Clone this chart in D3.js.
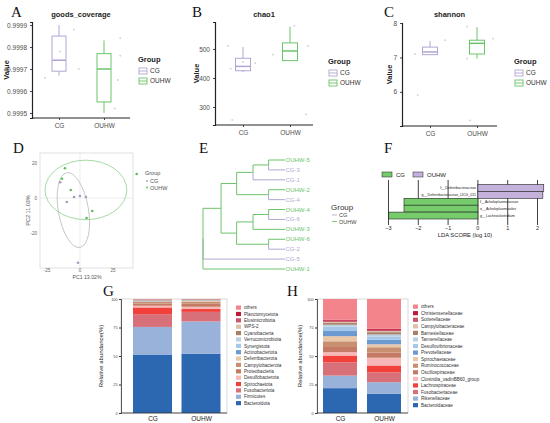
<!DOCTYPE html>
<html><head><meta charset="utf-8">
<script src="https://cdn.jsdelivr.net/npm/d3@7"></script>
<style>body{margin:0;background:#fff;} svg{display:block;font-family:"Liberation Sans",Arial,sans-serif;}</style>
</head><body><svg id="c" width="550" height="423"></svg>
<script>
// ---------------- DATA ----------------
const groups = ["CG", "OUHW"];
const groupColors = ["#b3a6d4", "#6cc46a"];

// box stats: [min, q1, median, q3, max]
const goodsStats = [[0.99967, 0.99969, 0.99974, 0.99985, 0.99990], [0.99950, 0.99955, 0.99970, 0.99977, 0.99983]];
const goodsTicks = [0.9995, 0.9996, 0.9997, 0.9998, 0.9999];
const goodsPts = [["CG",0.33,0.99988],["CG",0.02,0.99978],["CG",0.44,0.99970],["CG",-0.31,0.99966],["OUHW",0.36,0.99984],["OUHW",0.36,0.99976],["OUHW",0.31,0.99965],["OUHW",0.24,0.99952]];

const chaoStats = [[420, 425, 440, 468, 507], [460, 460, 493, 521, 577]];
const chaoTicks = [300, 400, 500];
const chaoPts = [["CG",-0.32,510],["CG",0,455],["CG",0.26,452],["CG",-0.26,432],["CG",-0.23,255],["OUHW",-0.36,480],["OUHW",0.38,510],["OUHW",0.34,275],["OUHW",0.09,580]];

const shannonStats = [[7.08, 7.08, 7.16, 7.30, 7.48], [6.97, 7.10, 7.41, 7.50, 7.88]];
const shannonTicks = [6, 7, 8];
const shannonPts = [["CG",-0.32,7.1],["CG",0.32,7.5],["CG",-0.26,5.9],["OUHW",-0.21,7.9],["OUHW",0.34,7.55],["OUHW",-0.21,6.97],["OUHW",-0.15,5.17]];

// PCoA
const pcoaGroup = ["CG","CG","CG","CG","CG","CG","OUHW","OUHW","OUHW","OUHW","OUHW","OUHW"];
const pc1 = [-15, -10, -4.5, 0, 4.5, -1.5, -11.4, -13.6, -7, 9.3, 5, 43];
const pc2 = [9, -2.3, 0.6, 1.1, 0.6, -37, 17, 11, 4.6, -7.4, -11.4, 13.7];
const pcTicks = [-25, 0, 25];
const pc2Ticks = [-20, 0, 20];
// ellipses: [cx, cy, rx, ry, angle]
const ellipseCG = [-5, -6.9, 11.4, 21.7, -10];
const ellipseOUHW = [4.5, 4.6, 31, 17, 0];

// Tree (heights 0..1)
const tree = {h:0, children:[
  {h:0.22, children:[
    {h:0.41, children:[
      {h:0.61, children:[
        {h:0.80, children:[{name:"OUHW-5"},{name:"CG-3"}]},
        {name:"CG-1"}]},
      {h:0.80, children:[{name:"OUHW-2"},{name:"CG-4"}]}]},
    {h:0.41, children:[
      {h:0.61, children:[
        {h:0.80, children:[{name:"OUHW-4"},{name:"CG-6"}]},
        {name:"OUHW-3"}]},
      {h:0.80, children:[{name:"OUHW-6"},{name:"CG-2"}]}]}]},
  {name:"CG-5"},
  {name:"OUHW-1"}]};

// LEfSe
const ldaFeatures = ["f__Deferribacteraceae","g__Deferribacteraceae_UCG_011","f__Acholeplasmataceae","o__Acholeplasmatales","g__Lachnoclostridium"];
const ldaScores = [2.21, 2.18, -2.48, -2.48, -2.99];
const ldaGroups = ["OUHW","OUHW","CG","CG","CG"];
const ldaTicks = [-3, -2, -1, 0, 1, 2];

// Phylum (bottom -> top)
const phylumNames = ["Bacteroidota","Firmicutes","Fusobacteriota","Spirochaetota","Desulfobacterota","Proteobacteria","Campylobacterota","Deferribacterota","Actinobacteriota","Synergistota","Verrucomicrobiota","Cyanobacteria","WPS-2","Elusimicrobiota","Planctomycetota","others"];
const phylumCG =   [51.3, 24.2, 11.2, 5.9, 1.5, 2.0, 1.5, 0.4, 0.3, 0.2, 0.2, 0.6, 0.2, 0.2, 0.1, 0.2];
const phylumOUHW = [52.0, 28.3, 8.4, 2.5, 2.0, 3.0, 1.5, 0.5, 0.3, 0.2, 0.2, 0.5, 0.2, 0.2, 0.1, 0.1];

// Family (bottom -> top)
const familyNames = ["Bacteroidaceae","Rikenellaceae","Fusobacteriaceae","Lachnospiraceae","Clostridia_vadinBB60_group","Oscillospiraceae","Ruminococcaceae","Spirochaetaceae","Prevotellaceae","Desulfovibrionaceae","Tannerellaceae","Barnesiellaceae","Campylobacteraceae","Sutterellaceae","Christensenellaceae","others"];
const familyCG =   [21.8, 11.0, 11.6, 6.0, 3.0, 4.5, 5.0, 4.5, 4.5, 4.0, 1.5, 1.5, 1.0, 1.0, 1.0, 18.1];
const familyOUHW = [16.8, 10.2, 8.6, 6.1, 6.8, 4.5, 4.7, 2.6, 4.0, 2.6, 2.0, 2.0, 1.0, 1.0, 1.0, 26.1];

const stackPalette = ["#2c68b2","#98b2da","#d8707a","#f2403a","#f8b8b8","#c47a64","#c89070","#e8c8a8","#6a9ad0","#a6c8e8","#bcd0e2","#a88068","#dcc0a8","#c8566a","#c01a3a","#f4848c"];
const abundTicks = [0, 25, 50, 75, 100];

// ---------------- DRAW ----------------
const svg = d3.select("#c");
const colorOf = g => groupColors[groups.indexOf(g)];

function letter(t, x, y) {
  svg.append("text").attr("x", x).attr("y", y).text(t)
    .style("font-family", "'Liberation Serif','Times New Roman',serif").style("font-size", "15px").attr("fill", "#111");
}

function boxPanel(c) {
  const g = svg.append("g");
  const y = d3.scaleLinear().domain(c.domain).range([c.y1, c.y0]);
  const x = d3.scalePoint().domain(groups).range(c.centers);
  const ax = g.append("g").attr("transform", `translate(${c.x0},0)`).call(d3.axisLeft(y).tickValues(c.ticks).tickSize(2).tickFormat(c.fmt));
  ax.select(".domain").attr("stroke", "#222").attr("stroke-width", 1.2);
  ax.selectAll(".tick line").attr("stroke", "#444");
  ax.selectAll("text").attr("fill", "#4d4d4d").style("font-size", "6.5px");
  const bx = g.append("g").attr("transform", `translate(0,${c.y1})`).call(d3.axisBottom(x).tickSize(2).tickPadding(c.xpad));
  bx.select(".domain").attr("d", `M${c.x0},0H${c.x1}`).attr("stroke", "#222").attr("stroke-width", 1.2);
  bx.selectAll(".tick line").attr("stroke", "#444");
  bx.selectAll("text").attr("fill", "#4d4d4d").style("font-size", "6.5px");
  // points
  g.selectAll(".pt").data(c.pts).join("circle")
    .attr("cx", d => x(d[0]) + d[1] * (c.centers[1] - c.centers[0]))
    .attr("cy", d => y(d[2])).attr("r", 1).attr("fill", "#d5d5d5");
  groups.forEach((gr, i) => {
    const s = c.stats[i], cx = x(gr), w = c.bw, col = groupColors[i];
    g.append("line").attr("x1", cx).attr("x2", cx).attr("y1", y(s[4])).attr("y2", y(s[3])).attr("stroke", col).attr("stroke-width", 1);
    g.append("line").attr("x1", cx).attr("x2", cx).attr("y1", y(s[1])).attr("y2", y(s[0])).attr("stroke", col).attr("stroke-width", 1);
    g.append("rect").attr("x", cx - w / 2).attr("width", w).attr("y", y(s[3])).attr("height", y(s[1]) - y(s[3]))
      .attr("fill", "none").attr("stroke", col).attr("stroke-width", 1);
    g.append("line").attr("x1", cx - w / 2).attr("x2", cx + w / 2).attr("y1", y(s[2])).attr("y2", y(s[2])).attr("stroke", col).attr("stroke-width", 1.5);
  });
  g.append("text").attr("x", (c.x0 + c.x1) / 2).attr("y", 17).attr("text-anchor", "middle").text(c.title)
    .style("font-size", "7.5px").style("font-weight", "bold").attr("fill", "#222");
  g.append("text").attr("transform", `translate(${c.ylabX},${(c.y0 + c.y1) / 2}) rotate(-90)`).attr("text-anchor", "middle")
    .text("Value").style("font-size", "7.5px").style("font-weight", "bold").attr("fill", "#222");
  // legend
  const lg = g.append("g").attr("transform", `translate(${c.legX},${c.legY})`);
  lg.append("text").text("Group").attr("y", 0).style("font-size", "7.5px").style("font-weight", "bold").attr("fill", "#222");
  groups.forEach((gr, i) => {
    const yy = 9 + i * 10;
    lg.append("rect").attr("x", 1).attr("y", yy - 3).attr("width", 8).attr("height", 6).attr("fill", "none").attr("stroke", groupColors[i]).attr("stroke-width", 0.9);
    lg.append("line").attr("x1", 1).attr("x2", 9).attr("y1", yy).attr("y2", yy).attr("stroke", groupColors[i]).attr("stroke-width", 0.9);
    lg.append("text").attr("x", 12).attr("y", yy + 2.3).text(gr).style("font-size", "6.5px").attr("fill", "#333");
  });
}

letter("A", 11, 17); letter("B", 192, 17); letter("C", 384, 17);
letter("D", 13, 153); letter("E", 199, 153); letter("F", 384, 153);
letter("G", 103, 296); letter("H", 287, 296);

boxPanel({title:"goods_coverage", x0:32, x1:130, y0:22, y1:118, domain:[0.999477, 0.999914], ticks:goodsTicks, fmt:d3.format(".4f"),
  centers:[59,104], stats:goodsStats, pts:goodsPts, bw:14, ylabX:9, legX:138, legY:62, xpad:3});
boxPanel({title:"chao1", x0:215, x1:313, y0:22, y1:125, domain:[238, 593], ticks:chaoTicks, fmt:d3.format("d"),
  centers:[243,290], stats:chaoStats, pts:chaoPts, bw:15, ylabX:199, legX:328, legY:64, xpad:3});
boxPanel({title:"shannon", x0:402, x1:497, y0:23, y1:126, domain:[5.01, 8.0], ticks:shannonTicks, fmt:d3.format("d"),
  centers:[430,477], stats:shannonStats, pts:shannonPts, bw:15, ylabX:392, legX:514, legY:64, xpad:3});

// ---- D: PCoA ----
(function(){
  const g = svg.append("g");
  const x0 = 40, x1 = 133, y0 = 153, y1 = 268;
  const x = d3.scaleLinear().domain([-30.3, 40.2]).range([x0, x1]);
  const y = d3.scaleLinear().domain([-40, 25.7]).range([y1, y0]);
  g.append("line").attr("x1", x(0)).attr("x2", x(0)).attr("y1", y0).attr("y2", y1).attr("stroke", "#e6e6e6").attr("stroke-width", 0.8);
  g.append("line").attr("x1", x0).attr("x2", x1).attr("y1", y(0)).attr("y2", y(0)).attr("stroke", "#e6e6e6").attr("stroke-width", 0.8);
  g.append("rect").attr("x", x0).attr("y", y0).attr("width", x1 - x0).attr("height", y1 - y0).attr("fill", "none").attr("stroke", "#d9d9d9").attr("stroke-width", 0.8);
  const ell = (e, col) => g.append("ellipse").attr("cx", 0).attr("cy", 0)
    .attr("rx", Math.abs(x(e[2]) - x(0))).attr("ry", Math.abs(y(e[3]) - y(0)))
    .attr("transform", `translate(${x(e[0])},${y(e[1])}) rotate(${e[4]})`)
    .attr("fill", "none").attr("stroke", col).attr("stroke-width", 0.9);
  ell(ellipseCG, "#c4c4c4");
  ell(ellipseOUHW, "#9ad69a");
  g.selectAll(".p").data(pc1).join("circle").attr("cx", d => x(d)).attr("cy", (d, i) => y(pc2[i])).attr("r", 1.3)
    .attr("fill", (d, i) => pcoaGroup[i] === "CG" ? "#a59bb8" : "#5cbf5a");
  const fs = "4.6px";
  pcTicks.forEach(t => g.append("text").attr("x", x(t)).attr("y", y1 + 4.2).attr("text-anchor", "middle").text(t).style("font-size", fs).attr("fill", "#666"));
  pc2Ticks.forEach(t => g.append("text").attr("x", x0 - 3).attr("y", y(t) + 1.6).attr("text-anchor", "end").text(t).style("font-size", fs).attr("fill", "#666"));
  g.append("text").attr("x", 87).attr("y", 278.5).attr("text-anchor", "middle").text("PC1 13.02%").style("font-size", "5.2px").attr("fill", "#555");
  g.append("text").attr("transform", `translate(30,${(y0 + y1) / 2}) rotate(-90)`).attr("text-anchor", "middle").text("PC2 11.03%").style("font-size", "5.5px").attr("fill", "#555");
  const lg = g.append("g").attr("transform", "translate(145,175)");
  lg.append("text").text("Group").style("font-size", "5.5px").attr("fill", "#555");
  groups.forEach((gr, i) => {
    lg.append("circle").attr("cx", 2).attr("cy", 6 + i * 6.5).attr("r", 0.9).attr("fill", i ? "#5cbf5a" : "#a59bb8");
    lg.append("text").attr("x", 5).attr("y", 8 + i * 6.5).text(gr).style("font-size", "5.5px").attr("fill", "#555");
  });
})();

// ---- E: tree ----
(function(){
  const g = svg.append("g");
  const root = d3.hierarchy(tree);
  const leaves = root.leaves();
  const yl = d3.scalePoint().domain(leaves.map(d => d.data.name)).range([160, 269]);
  const x = d3.scaleLinear().domain([0, 1]).range([203, 285]);
  root.eachAfter(n => {
    if (!n.children) { n.py = yl(n.data.name); n.px = x(1); n.col = colorOf(n.data.name.split("-")[0]); }
    else { n.py = (n.children[0].py + n.children[n.children.length - 1].py) / 2; n.px = x(n.data.h); n.col = groupColors[1]; }
  });
  root.each(n => {
    if (!n.parent) return;
    const p = n.parent;
    g.append("path").attr("d", `M${p.px},${p.py}V${n.py}H${n.px}`).attr("fill", "none").attr("stroke", n.col).attr("stroke-width", 1);
  });
  leaves.forEach(l => g.append("text").attr("x", l.px + 0.5).attr("y", l.py + 2).text(l.data.name)
    .style("font-size", "6px").attr("fill", l.col));
  const lg = g.append("g").attr("transform", "translate(331,210)");
  lg.append("text").text("Group").style("font-size", "8px").attr("fill", "#333");
  groups.forEach((gr, i) => {
    lg.append("line").attr("x1", 1).attr("x2", 6).attr("y1", 5 + i * 6.5).attr("y2", 5 + i * 6.5).attr("stroke", groupColors[i]).attr("stroke-width", 0.9);
    lg.append("text").attr("x", 8).attr("y", 7 + i * 6.5).text(gr).style("font-size", "5.5px").attr("fill", "#444");
  });
})();

// ---- F: LEfSe ----
(function(){
  const g = svg.append("g");
  const x = d3.scaleLinear().domain([-3, 2]).range([388.5, 537.5]);
  const y = d3.scaleBand().domain(ldaFeatures).range([184.5, 219]).paddingInner(0);
  const ldaCol = {CG:"#76cc6a", OUHW:"#c4b2dc"};
  ldaTicks.forEach(t => {
    g.append("line").attr("x1", x(t)).attr("x2", x(t)).attr("y1", 180).attr("y2", 225).attr("stroke", "#111").attr("stroke-width", 0.8);
    g.append("text").attr("x", x(t)).attr("y", 230).attr("text-anchor", "middle").text(t < 0 ? "\u2212" + Math.abs(t) : t).style("font-size", "5.5px").attr("fill", "#222");
  });
  g.selectAll(".b").data(ldaFeatures).join("rect")
    .attr("x", (d, i) => Math.min(x(0), x(ldaScores[i]))).attr("width", (d, i) => Math.abs(x(ldaScores[i]) - x(0)))
    .attr("y", d => y(d)).attr("height", y.bandwidth())
    .attr("fill", (d, i) => ldaCol[ldaGroups[i]]).attr("stroke", "#222").attr("stroke-width", 0.6);
  ldaFeatures.forEach((f, i) => {
    const pos = ldaScores[i] > 0;
    g.append("text").attr("x", pos ? x(0) - 2 : x(0) + 2).attr("y", y(f) + y.bandwidth() / 2 + 1.3)
      .attr("text-anchor", pos ? "end" : "start").text(f).style("font-size", "3.6px").attr("fill", "#222");
  });
  g.append("text").attr("x", 465).attr("y", 237).attr("text-anchor", "middle").text("LDA SCORE (log 10)").style("font-size", "5.8px").attr("fill", "#222");
  const lg = g.append("g").attr("transform", "translate(382,172)");
  groups.forEach((gr, i) => {
    const ox = i * 31;
    lg.append("rect").attr("x", ox).attr("y", 0).attr("width", 10).attr("height", 5).attr("fill", ldaCol[gr]).attr("stroke", "#222").attr("stroke-width", 0.5);
    lg.append("text").attr("x", ox + 14).attr("y", 4.8).text(gr).style("font-size", "6px").attr("fill", "#222");
  });
})();

// ---- G / H: stacked bars ----
function stackPanel(c) {
  const g = svg.append("g");
  const y = d3.scaleLinear().domain([0, 100]).range([413, 299]);
  const x = d3.scalePoint().domain(groups).range(c.centers);
  g.append("rect").attr("x", c.x0).attr("y", 299).attr("width", c.x1 - c.x0).attr("height", 114).attr("fill", "none").attr("stroke", "#cfcfcf").attr("stroke-width", 0.8);
  const rows = groups.map((gr, i) => { const o = {group: gr}; c.names.forEach((n, k) => o[n] = c.vals[i][k]); return o; });
  const series = d3.stack().keys(c.names)(rows);
  series.forEach((s, k) => {
    g.selectAll(null).data(s).join("rect")
      .attr("x", d => x(d.data.group) - c.bw / 2).attr("width", c.bw)
      .attr("y", d => y(d[1])).attr("height", d => y(d[0]) - y(d[1]))
      .attr("fill", stackPalette[k]);
  });
  const ay = g.append("g").attr("transform", `translate(${c.x0},0)`).call(d3.axisLeft(y).tickValues(abundTicks).tickSize(2).tickPadding(1.5));
  ay.select(".domain").attr("stroke", "#333").attr("stroke-width", 0.8);
  ay.selectAll(".tick line").attr("stroke", "#333");
  ay.selectAll("text").style("font-size", "3.8px").attr("fill", "#444");
  const ax = g.append("g").attr("transform", "translate(0,413)").call(d3.axisBottom(x).tickSize(0).tickPadding(3));
  ax.select(".domain").attr("d", `M${c.x0},0H${c.x1}`).attr("stroke", "#333").attr("stroke-width", 0.8);
  ax.selectAll("text").style("font-size", "6.5px").attr("fill", "#222");
  g.append("text").attr("transform", `translate(${c.ylabX},356) rotate(-90)`).attr("text-anchor", "middle").text("Relative abundance(%)").style("font-size", "6px").attr("fill", "#222");
  const lg = g.append("g");
  const n = c.names.length;
  c.names.forEach((nm, k) => {
    const yy = c.legTop + (n - 1 - k) * c.legStep;
    lg.append("rect").attr("x", c.legX).attr("y", yy - 2.2).attr("width", 5).attr("height", 4.2).attr("fill", stackPalette[k]);
    lg.append("text").attr("x", c.legX + 8).attr("y", yy + 1.6).text(nm).style("font-size", "4.6px").attr("fill", "#333");
  });
}
stackPanel({names:phylumNames, vals:[phylumCG, phylumOUHW], x0:121, x1:227, centers:[152.5, 201], bw:39, ylabX:103, legX:236, legTop:307.7, legStep:6.37});
stackPanel({names:familyNames, vals:[familyCG, familyOUHW], x0:317, x1:408, centers:[340, 384], bw:34, ylabX:302, legX:413, legTop:306.7, legStep:6.57});
</script>
</body></html>
